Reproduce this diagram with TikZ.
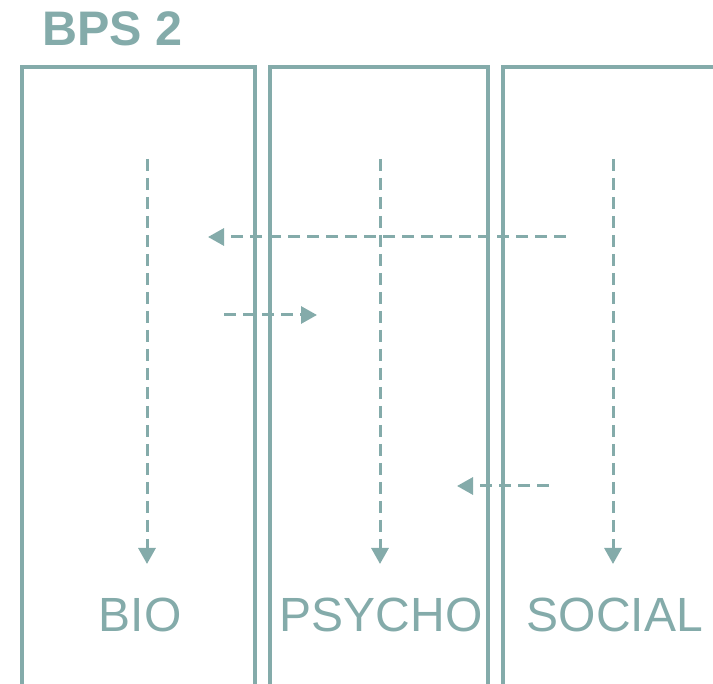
\documentclass[tikz,border=0pt]{standalone}
\usepackage{fontspec}
\setmainfont{Liberation Sans}
\usetikzlibrary{arrows.meta}
\definecolor{teal1}{RGB}{132,171,170}
\tikzset{
  colbox/.style={draw=teal1, line width=3.4pt, inner sep=0pt, outer sep=0pt},
  flow/.style={draw=teal1, line width=3pt, dash pattern=on 12pt off 7pt,
    -{Triangle[length=16pt,width=17pt]}},
  lbl/.style={text=teal1, font=\fontsize{48}{50}\selectfont, inner sep=0pt, anchor=base},
  ttl/.style={text=teal1, font=\bfseries\fontsize{48.5}{50}\selectfont, inner sep=0pt, anchor=base west}
}
\begin{document}
\begin{tikzpicture}[x=1pt,y=-1pt]
\useasboundingbox (0,0) rectangle (713,684);
\clip (0,0) rectangle (713,684);
% column boxes (open at bottom, past the edge)
\draw[colbox] (22,67) rectangle (255,720);
\draw[colbox] (270,67) rectangle (488,720);
\draw[colbox] (503,67) rectangle (740,720);
% title
\node[ttl] (title) at (42,46) {BPS 2};
% labels
\node[lbl] (bio) at (140,632) {BIO};
\node[lbl] (psycho) at (381,632) {PSYCHO};
\node[lbl] (social) at (615,632) {SOCIAL};
% vertical flows
\coordinate (b1) at (147,159); \coordinate (b2) at (147,564);
\coordinate (p1) at (380,159); \coordinate (p2) at (380,564);
\coordinate (s1) at (613,159); \coordinate (s2) at (613,564);
\draw[flow] (b1) -- (b2);
\draw[flow] (p1) -- (p2);
\draw[flow] (s1) -- (s2);
% horizontal flows
\coordinate (h1a) at (566,237); \coordinate (h1b) at (208,237);
\coordinate (h2a) at (224,315); \coordinate (h2b) at (317,315);
\coordinate (h3a) at (549,486); \coordinate (h3b) at (457,486);
\draw[flow] (h1a) -- (h1b);
\draw[flow] (h2a) -- (h2b);
\draw[flow] (h3a) -- (h3b);
\end{tikzpicture}
\end{document}
